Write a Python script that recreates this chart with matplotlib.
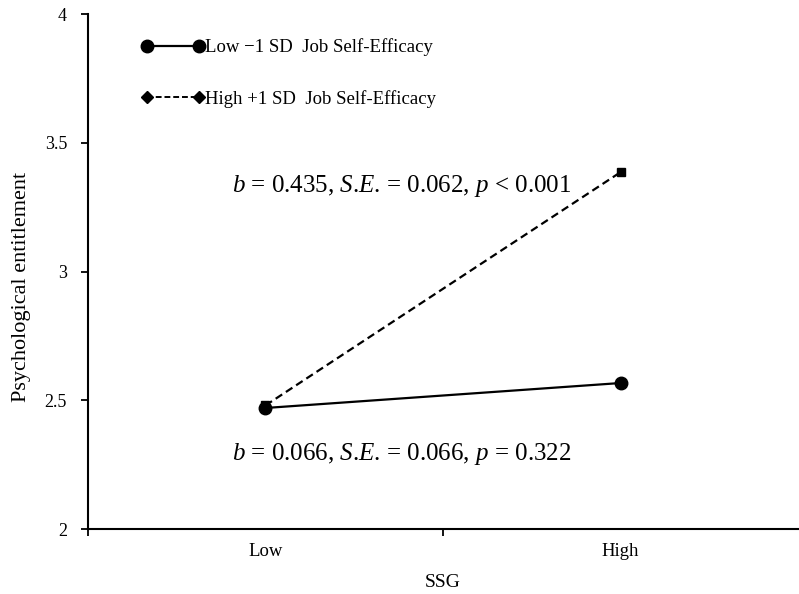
import matplotlib.pyplot as plt
from matplotlib.lines import Line2D

# values
ssg_levels = ['Low', 'High']
low_efficacy = [2.47, 2.567]     # Low -1 SD Job Self-Efficacy
high_efficacy = [2.48, 3.386]    # High +1 SD Job Self-Efficacy
y_ticks = [2, 2.5, 3, 3.5, 4]
y_tick_labels = ['2', '2.5', '3', '3.5', '4']

plt.rcParams['font.family'] = ['Liberation Serif', 'DejaVu Serif']
plt.rcParams['mathtext.fontset'] = 'custom'
plt.rcParams['mathtext.rm'] = 'Liberation Serif'
plt.rcParams['mathtext.it'] = 'Liberation Serif:italic'

fig = plt.figure(figsize=(7.99, 5.94), dpi=100)
ax = fig.add_axes([0.110, 0.1094, 0.889, 0.867])

# categories sit in the middle of each band, like an Excel line chart
xpos = [i + 0.5 for i in range(len(ssg_levels))]

ax.plot(xpos, low_efficacy, color='black', lw=1.6, marker='o', ms=9)
ax.plot(xpos, high_efficacy, color='black', lw=1.6, ls=(0, (3.5, 2)),
        marker='s', ms=6)

ax.set_xlim(0, len(ssg_levels))
ax.set_ylim(2, 4)
ax.set_yticks(y_ticks)
ax.set_yticklabels(y_tick_labels, fontsize=13)
ax.set_xticks([0, 1])
ax.set_xticklabels([])
ax.set_xticks(xpos, minor=True)
ax.set_xticklabels(ssg_levels, minor=True, fontsize=13.5)
ax.tick_params(axis='x', which='minor', length=0, pad=10)
ax.tick_params(axis='both', which='major', direction='out', length=5, width=1.3)
ax.tick_params(axis='y', pad=10)

for side in ['top', 'right']:
    ax.spines[side].set_visible(False)
for side in ['left', 'bottom']:
    ax.spines[side].set_linewidth(1.5)

ax.set_xlabel('SSG', fontsize=14, labelpad=10)
ax.set_ylabel('Psychological entitlement', fontsize=16)
ax.yaxis.set_label_coords(-0.080, 0.47)

# slope annotations (italic b, S.E., p)
ax.text(0.406, 3.332, r'$b$ = 0.435, $S$.$E$. = 0.062, $p$ < 0.001',
        fontsize=18, va='center')
ax.text(0.406, 2.29, r'$b$ = 0.066, $S$.$E$. = 0.066, $p$ = 0.322',
        fontsize=18, va='center')

handles = [
    Line2D([], [], color='black', lw=1.6, marker='o', ms=9),
    Line2D([], [], color='black', lw=1.4, ls=(0, (3, 1.5)), marker='D', ms=6),
]
labels = ['Low \u22121 SD  Job Self-Efficacy', 'High +1 SD  Job Self-Efficacy']
ax.legend(handles, labels, loc='upper left', bbox_to_anchor=(0.075, 0.953),
          frameon=False, numpoints=2, handlelength=3.37, handletextpad=0.05,
          borderpad=0, borderaxespad=0, labelspacing=1.8, fontsize=13.5)

fig.savefig('out.png', dpi=100)
